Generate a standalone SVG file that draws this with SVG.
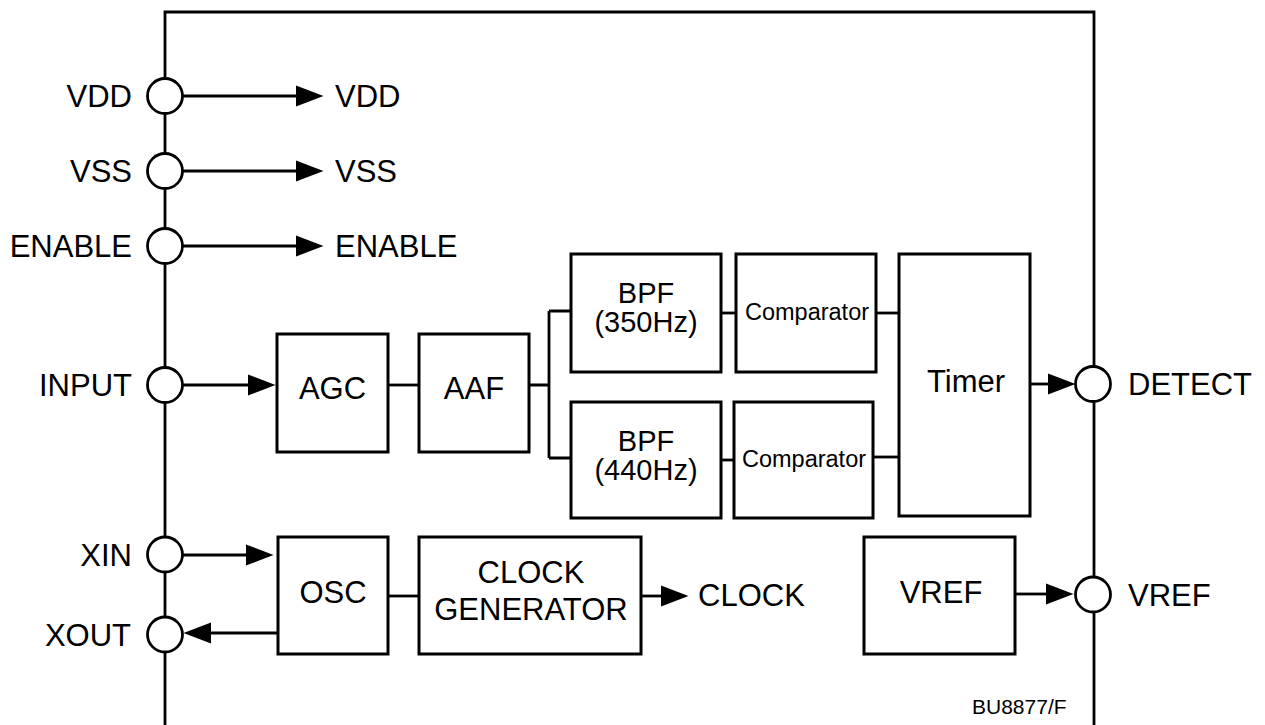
<svg xmlns="http://www.w3.org/2000/svg" width="1265" height="725" viewBox="0 0 1265 725">
<defs>
<style>
.box{fill:#fff;stroke:#000;stroke-width:3}
.pin{fill:#fff;stroke:#000;stroke-width:2.8}
.w{fill:none;stroke:#000;stroke-width:2.8}
.wa{fill:none;stroke:#000;stroke-width:2.8;marker-end:url(#ah)}
text{font-family:"Liberation Sans",Arial,Helvetica,sans-serif;fill:#000}
.t{font-size:31px}
.c{font-size:31px;text-anchor:middle}
.b{font-size:29px;text-anchor:middle}
.cmp{font-size:23.5px;text-anchor:middle}
.l{font-size:31px;text-anchor:end}
</style>
<marker id="ah" markerUnits="userSpaceOnUse" markerWidth="28" markerHeight="22" refX="0" refY="10.5" orient="auto" viewBox="0 0 28 21">
<path d="M0,0 L27.5,10.5 L0,21 Z" fill="#000"/>
</marker>
</defs>

<g id="frame">
<path class="w" d="M165,725 V12 H1094 V725" stroke-width="3"/>
</g>

<g id="connectors">
<line class="wa" x1="183" y1="96" x2="296" y2="96"/>
<line class="wa" x1="183" y1="171" x2="296" y2="171"/>
<line class="wa" x1="183" y1="246" x2="296" y2="246"/>
<line class="wa" x1="183" y1="385" x2="248" y2="385"/>
<line class="w" x1="388" y1="385" x2="419" y2="385"/>
<path class="w" d="M529,385 H549 M549,311 V458 M549,311 H571 M549,458 H571"/>
<line class="w" x1="721" y1="313" x2="736" y2="313"/>
<line class="w" x1="721" y1="460" x2="734" y2="460"/>
<line class="w" x1="876" y1="313" x2="899" y2="313"/>
<line class="w" x1="873" y1="457" x2="899" y2="457"/>
<line class="wa" x1="1030" y1="384" x2="1048" y2="384"/>
<line class="wa" x1="183" y1="555" x2="246" y2="555"/>
<line class="wa" x1="278" y1="633" x2="211" y2="633"/>
<line class="w" x1="388" y1="596" x2="419" y2="596"/>
<line class="wa" x1="641" y1="596" x2="661" y2="596"/>
<line class="wa" x1="1015" y1="594" x2="1046" y2="594"/>
</g>

<g id="pin-vdd"><circle class="pin" cx="165" cy="96" r="17.5"/><text class="l" x="132" y="107">VDD</text><text class="t" x="335" y="107">VDD</text></g>
<g id="pin-vss"><circle class="pin" cx="165" cy="171" r="17.5"/><text class="l" x="132" y="182">VSS</text><text class="t" x="335" y="182">VSS</text></g>
<g id="pin-enable"><circle class="pin" cx="165" cy="246" r="17.5"/><text class="l" x="132" y="257">ENABLE</text><text class="t" x="335" y="257">ENABLE</text></g>
<g id="pin-input"><circle class="pin" cx="165" cy="385" r="17.5"/><text class="l" x="132" y="396">INPUT</text></g>
<g id="pin-xin"><circle class="pin" cx="165" cy="554.5" r="17.5"/><text class="l" x="132" y="566">XIN</text></g>
<g id="pin-xout"><circle class="pin" cx="165" cy="634.5" r="17.5"/><text class="l" x="131" y="646">XOUT</text></g>
<g id="pin-detect"><circle class="pin" cx="1093" cy="384" r="17.5"/><text class="t" x="1128" y="395">DETECT</text></g>
<g id="pin-vref"><circle class="pin" cx="1093" cy="594.5" r="17.5"/><text class="t" x="1128" y="606">VREF</text></g>

<g id="agc"><rect class="box" x="277" y="334" width="111" height="118"/><text class="c" x="332.5" y="399">AGC</text></g>
<g id="aaf"><rect class="box" x="419" y="334" width="110" height="118"/><text class="c" x="474" y="399">AAF</text></g>
<g id="bpf350"><rect class="box" x="571" y="254" width="150" height="118"/><text class="b" x="646" y="303">BPF</text><text class="b" x="646" y="332">(350Hz)</text></g>
<g id="bpf440"><rect class="box" x="571" y="402" width="150" height="116"/><text class="b" x="646" y="451">BPF</text><text class="b" x="646" y="480">(440Hz)</text></g>
<g id="comp1"><rect class="box" x="736" y="254" width="140" height="118"/><text class="cmp" x="807" y="320">Comparator</text></g>
<g id="comp2"><rect class="box" x="734" y="402" width="139" height="116"/><text class="cmp" x="804" y="467">Comparator</text></g>
<g id="timer"><rect class="box" x="899" y="254" width="131" height="262"/><text class="c" x="966" y="392">Timer</text></g>
<g id="osc"><rect class="box" x="278" y="537" width="110" height="117"/><text class="c" x="333" y="603">OSC</text></g>
<g id="clockgen"><rect class="box" x="419" y="537" width="222" height="117"/><text class="c" x="531" y="583">CLOCK</text><text class="c" x="531" y="620">GENERATOR</text></g>
<g id="clock-out"><text class="t" x="698" y="606">CLOCK</text></g>
<g id="vref"><rect class="box" x="864" y="537" width="151" height="117"/><text class="c" x="941" y="603">VREF</text></g>
<g id="partno"><text x="972" y="714" font-size="21">BU8877/F</text></g>
</svg>
